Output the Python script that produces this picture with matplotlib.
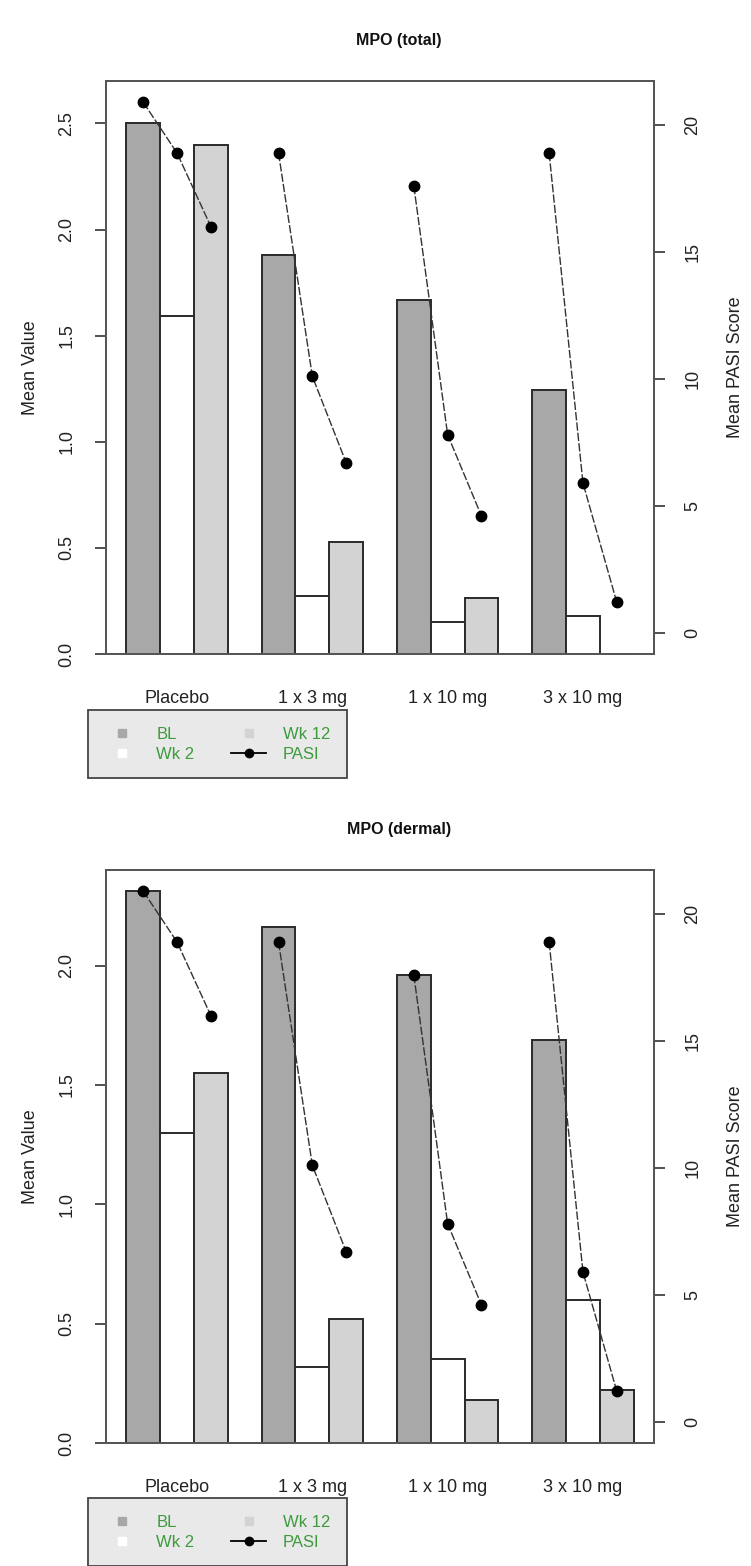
import matplotlib
matplotlib.use("Agg")
import matplotlib.pyplot as plt
from matplotlib.lines import Line2D
import numpy as np

plt.rcParams['font.family'] = ['Liberation Sans', 'DejaVu Sans']

groups = ["Placebo", "1 x 3 mg", "1 x 10 mg", "3 x 10 mg"]
series = ["BL", "Wk 2", "Wk 12"]

total_bl = [2.50, 1.88, 1.67, 1.245]
total_wk2 = [1.595, 0.275, 0.153, 0.181]
total_wk12 = [2.40, 0.528, 0.262, 0.0]

dermal_bl = [2.31, 2.16, 1.96, 1.69]
dermal_wk2 = [1.30, 0.32, 0.35, 0.60]
dermal_wk12 = [1.55, 0.52, 0.18, 0.22]

pasi = [[20.9, 18.9, 16.0], [18.9, 10.1, 6.7], [17.6, 7.8, 4.6], [18.9, 5.9, 1.2]]

left_ticks_total = [0.0, 0.5, 1.0, 1.5, 2.0, 2.5]
left_ticks_dermal = [0.0, 0.5, 1.0, 1.5, 2.0]
right_ticks = [0, 5, 10, 15, 20]

W, H = 751, 1566
fig = plt.figure(figsize=(W / 100, H / 100), dpi=100)

colors = ["#a8a8a8", "#ffffff", "#d3d3d3"]
green = "#3d9a3d"
spine_col = "#555555"


def panel(top_px, bottom_px, title, bl, wk2, wk12, lticks, ymax, legend_top):
    ax = fig.add_axes([106 / W, 1 - bottom_px / H, (654 - 106) / W, (bottom_px - top_px) / H])
    data = [bl, wk2, wk12]
    # R barplot beside=TRUE, space=c(0,1): group g starts at 1 + 4g
    for s in range(3):
        xs = [1 + 4 * g + s for g in range(4)]
        ax.bar(xs, data[s], width=1.0, align="edge", color=colors[s],
               edgecolor="#2a2a2a", linewidth=1.4, zorder=2)
    ax.set_xlim(0.4, 16.6)
    ax.set_ylim(0, ymax)
    ax.set_xticks([2.5 + 4 * g for g in range(4)])
    ax.set_xticklabels(groups, fontsize=13, color="#222222")
    ax.tick_params(axis="x", length=0, pad=26)
    ax.set_yticks(lticks)
    ax.set_yticklabels([f"{t:.1f}" for t in lticks], rotation=90, va="center",
                       fontsize=13, color="#222222")
    ax.tick_params(axis="y", length=8, width=1.2, color="#333333", pad=14)
    ax.set_ylabel("Mean Value", fontsize=13, labelpad=14, color="#222222")
    for sp in ax.spines.values():
        sp.set_color(spine_col)
        sp.set_linewidth(1.3)
    fig.text(399 / W, 1 - (top_px - 40) / H, title, fontsize=11.5, fontweight="bold",
             color="#111111", ha="center", va="center")

    ax2 = ax.twinx()
    allp = [v for grp in pasi for v in grp]
    lo, hi = 0, max(allp)
    ext = 0.04 * (hi - lo)
    ax2.set_ylim(lo - ext, hi + ext)
    for g in range(4):
        xs = [1 + 4 * g + s + 0.5 for s in range(3)]
        ax2.plot(xs, pasi[g], color="#333333", linewidth=1.0, linestyle=(0, (6, 1.5)),
                 marker="o", markersize=7.5, markerfacecolor="black",
                 markeredgecolor="black", zorder=3)
    ax2.set_yticks(right_ticks)
    ax2.set_yticklabels([str(t) for t in right_ticks], rotation=90, va="center",
                        fontsize=13, color="#222222")
    ax2.tick_params(axis="y", length=8, width=1.2, color="#333333", pad=14)
    ax2.set_ylabel("Mean PASI Score", fontsize=13, labelpad=18, color="#222222")
    for sp in ax2.spines.values():
        sp.set_color(spine_col)
        sp.set_linewidth(1.3)

    handles = [
        Line2D([], [], linestyle="none", marker="s", markersize=6,
               markerfacecolor=colors[0], markeredgecolor=colors[0]),
        Line2D([], [], linestyle="none", marker="s", markersize=6,
               markerfacecolor="white", markeredgecolor="white"),
        Line2D([], [], linestyle="none", marker="s", markersize=6,
               markerfacecolor=colors[2], markeredgecolor=colors[2]),
        Line2D([], [], color="black", linewidth=1.3, marker="o", markersize=6),
    ]
    labels = ["BL", "Wk 2", "Wk 12", "PASI"]
    leg = fig.legend(handles, labels, ncol=2, loc="upper left",
                     bbox_to_anchor=(88 / W, 1 - legend_top / H),
                     fontsize=12, labelcolor=green, frameon=True,
                     fancybox=False, edgecolor="#444444", facecolor="#e9e9e9",
                     borderpad=1.0, labelspacing=0.3, handlelength=2.1,
                     handletextpad=1.0, columnspacing=2.2, borderaxespad=0)
    leg.get_frame().set_linewidth(1.3)
    leg.get_frame().set_alpha(1)
    return ax


panel(81, 654, "MPO (total)", total_bl, total_wk2, total_wk12, left_ticks_total, 2.70, 710)
panel(870, 1443, "MPO (dermal)", dermal_bl, dermal_wk2, dermal_wk12, left_ticks_dermal, 2.40, 1498)

fig.savefig("out.png", dpi=100)
